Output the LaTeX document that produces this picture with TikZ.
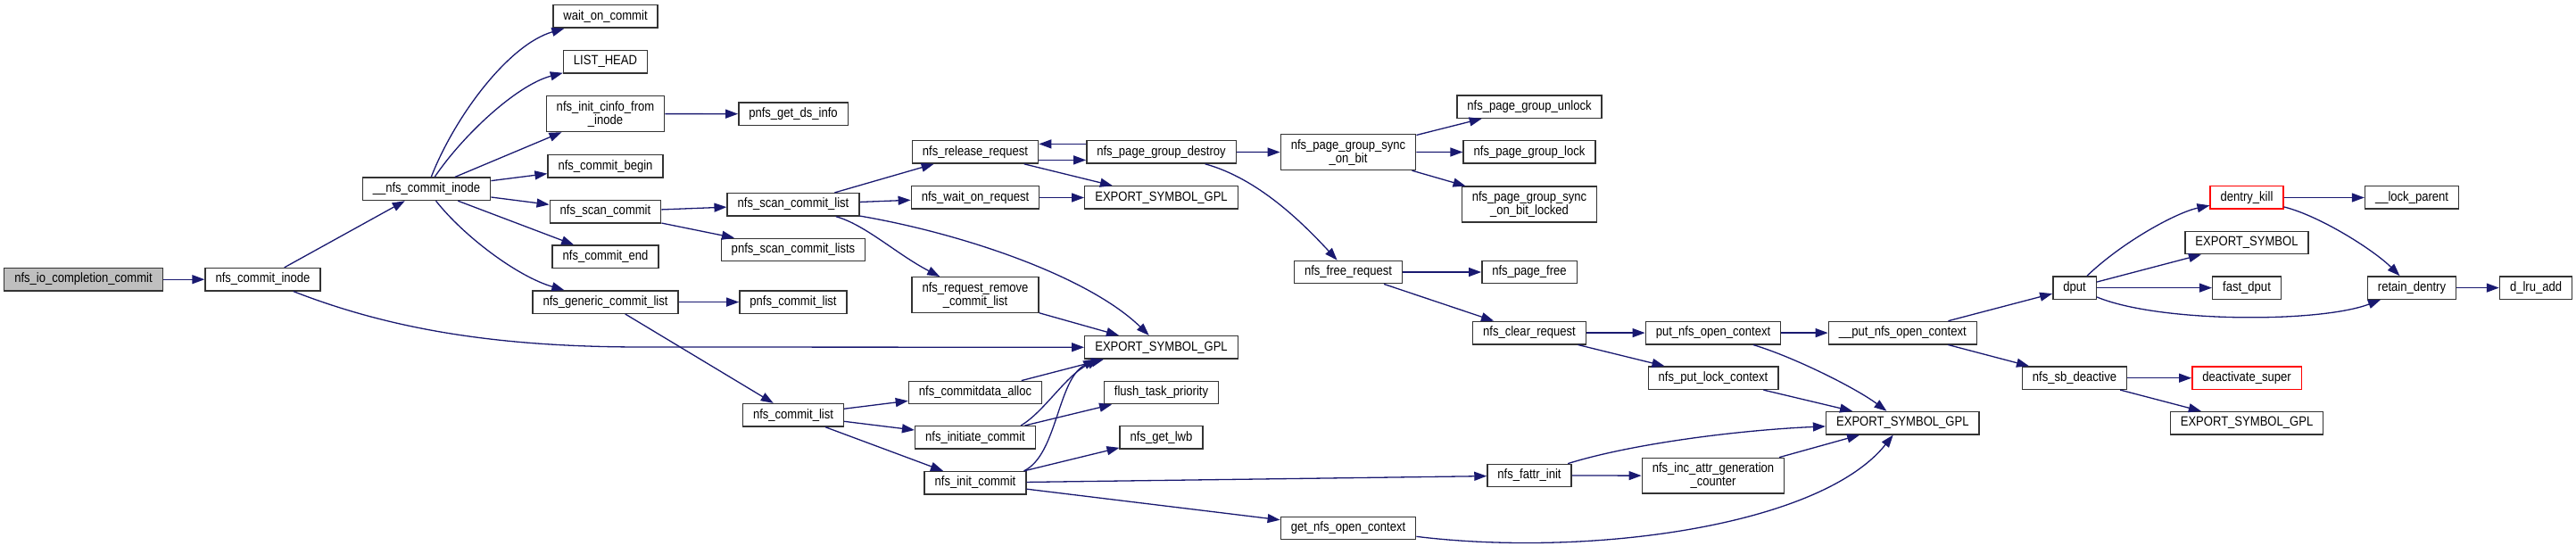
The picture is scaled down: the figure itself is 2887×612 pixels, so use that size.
\documentclass[tikz,border=0pt]{standalone}
\usepackage{fontspec}
\setmainfont{Liberation Sans}[FakeStretch=0.87]
\usetikzlibrary{arrows.meta}
\definecolor{edgeblue}{HTML}{191970}
\definecolor{boxline}{HTML}{333333}

\tikzset{
  fbox/.style={draw=boxline, line width=1.4pt, fill=white, inner xsep=11.5pt, inner ysep=0pt, font=\fontsize{15}{15}\selectfont},
  fn/.style={fbox, minimum height=25.4pt, text height=11pt, text depth=3.6pt},
  fn2/.style={fbox, minimum height=39.8pt, align=center},
  root/.style={fn, fill=gray!50},
  trunc/.style={fn, draw=red},
  call/.style={->, draw=edgeblue, line width=1.3pt},
}

\begin{document}
\begin{tikzpicture}[x=1pt, y=-1pt, >={Triangle[length=14pt,width=10pt]}]
    \useasboundingbox (0,0) rectangle (2887,612);

    % callers
    \node[root] (io) at (93.5,313.2) {nfs\_io\_completion\_commit};
    \node[fn] (nci) at (294.5,313.2) {nfs\_commit\_inode};
    \node[fn] (unci) at (478,211.8) {\_\_nfs\_commit\_inode};

    % callees of __nfs_commit_inode
    \node[fn] (woc) at (678.5,18.5) {wait\_on\_commit};
    \node[fn] (lh) at (678.5,69.3) {LIST\_HEAD};
    \node[fn2] (ici) at (678.5,127.6) {nfs\_init\_cinfo\_from\\\_inode};
    \node[fn] (cb) at (678.5,186.4) {nfs\_commit\_begin};
    \node[fn] (sc) at (678.5,237.3) {nfs\_scan\_commit};
    \node[fn] (ce) at (678.5,287.8) {nfs\_commit\_end};
    \node[fn] (gcl) at (678.5,338.6) {nfs\_generic\_commit\_list};

    \node[fn] (gdi) at (889,127.7) {pnfs\_get\_ds\_info};
    \node[fn] (scl) at (889,229.3) {nfs\_scan\_commit\_list};
    \node[fn] (pscl) at (889,280) {pnfs\_scan\_commit\_lists};
    \node[fn] (pcl) at (889,338.6) {pnfs\_commit\_list};
    \node[fn] (cl) at (889,465.3) {nfs\_commit\_list};

    \node[fn] (rr) at (1093,170.4) {nfs\_release\_request};
    \node[fn] (wor) at (1093,221.5) {nfs\_wait\_on\_request};
    \node[fn2] (rcl) at (1093,330.6) {nfs\_request\_remove\\\_commit\_list};
    \node[fn] (ca) at (1093,440) {nfs\_commitdata\_alloc};
    \node[fn] (ic) at (1093,490.4) {nfs\_initiate\_commit};
    \node[fn] (inc) at (1093,541.2) {nfs\_init\_commit};

    \node[fn] (pgd) at (1301.5,170.4) {nfs\_page\_group\_destroy};
    \node[fn] (gpla) at (1301.5,221.5) {EXPORT\_SYMBOL\_GPL};
    \node[fn] (gplb) at (1301.5,389.3) {EXPORT\_SYMBOL\_GPL};
    \node[fn] (ftp) at (1301.5,440) {flush\_task\_priority};
    \node[fn] (lwb) at (1301.5,490.4) {nfs\_get\_lwb};

    \node[fn2] (sob) at (1511,170.6) {nfs\_page\_group\_sync\\\_on\_bit};
    \node[fn] (fr) at (1511,305) {nfs\_free\_request};
    \node[fn] (gnoc) at (1511,592) {get\_nfs\_open\_context};

    \node[fn] (pgu) at (1714,119.6) {nfs\_page\_group\_unlock};
    \node[fn] (pgl) at (1714,170.4) {nfs\_page\_group\_lock};
    \node[fn2] (sobl) at (1714,229.1) {nfs\_page\_group\_sync\\\_on\_bit\_locked};
    \node[fn] (pf) at (1714,305) {nfs\_page\_free};
    \node[fn] (cr) at (1714,373.1) {nfs\_clear\_request};
    \node[fn] (fi) at (1714,533) {nfs\_fattr\_init};

    \node[fn] (pnoc) at (1920,373.1) {put\_nfs\_open\_context};
    \node[fn] (plc) at (1920,423.7) {nfs\_put\_lock\_context};
    \node[fn2] (iagc) at (1920,533.2) {nfs\_inc\_attr\_generation\\\_counter};

    \node[fn] (upnoc) at (2132.3,373.1) {\_\_put\_nfs\_open\_context};
    \node[fn] (gplc) at (2132.3,474.2) {EXPORT\_SYMBOL\_GPL};

    \node[fn] (dput) at (2325,322.6) {dput};
    \node[fn] (sbd) at (2325,423.7) {nfs\_sb\_deactive};

    \node[trunc] (dk) at (2518,221.5) {dentry\_kill};
    \node[fn] (es) at (2518,272) {EXPORT\_SYMBOL};
    \node[fn] (fd) at (2518,322.6) {fast\_dput};
    \node[trunc] (ds) at (2518,423.7) {deactivate\_super};
    \node[fn] (gpld) at (2518,474.2) {EXPORT\_SYMBOL\_GPL};

    \node[fn] (lp) at (2703,221.5) {\_\_lock\_parent};
    \node[fn] (rd) at (2703,322.6) {retain\_dentry};
    \node[fn] (lru) at (2842,322.6) {d\_lru\_add};

    % calls
    \draw[call] (io) -- (nci);
    \draw[call] (nci) -- (unci);
    \coordinate (elb) at (720,389);
    \draw[call] (nci) .. controls (440,370) and (560,389) .. (elb) -- (gplb);
    \draw[call] (unci) .. controls (510,130) and (570,50) .. (woc);
    \draw[call] (unci) .. controls (520,150) and (580,95) .. (lh);
    \foreach \t in {ici,cb,sc,ce}
        \draw[call] (unci) -- (\t);
    \draw[call] (unci) .. controls (520,265) and (580,310) .. (gcl);

    \draw[call] (ici) -- (gdi);
    \draw[call] (sc) -- (scl);
    \draw[call] (sc) -- (pscl);
    \draw[call] (gcl) -- (pcl);
    \draw[call] (gcl) -- (cl);

    \draw[call] (scl) -- (rr);
    \draw[call] (scl) -- (wor);
    \draw[call] (scl) .. controls (970,252) and (1005,285) .. (rcl);
    \draw[call] (scl) .. controls (1080,262) and (1220,310) .. (gplb);
    \draw[call] ([yshift=-9pt]rr.east) -- ([yshift=-9pt]pgd.west);
    \draw[call] ([yshift=9pt]pgd.west) -- ([yshift=9pt]rr.east);
    \draw[call] (rr) -- (gpla);
    \draw[call] (wor) -- (gpla);
    \draw[call] (rcl) -- (gplb);

    \foreach \t in {ca,ic,inc}
        \draw[call] (cl) -- (\t);
    \draw[call] (ca) -- ([xshift=22pt]gplb.south west);
    \draw[call] ([xshift=-17pt]ic.north east) .. controls (1170,462) and (1195,420) .. ([xshift=17pt]gplb.south west);
    \draw[call] (ic) -- (ftp);
    \draw[call] ([xshift=-3pt]inc.north east) .. controls (1185,510) and (1185,425) .. ([xshift=13pt]gplb.south west);
    \draw[call] (inc) -- (lwb);
    \draw[call] (inc) -- (fi);
    \draw[call] (inc) -- (gnoc);

    \draw[call] (pgd) -- (sob);
    \draw[call] (pgd) .. controls (1410,200) and (1460,250) .. (fr);
    \foreach \t in {pgu,pgl,sobl}
        \draw[call] (sob) -- (\t);
    \draw[call] (fr) -- (pf);
    \draw[call] (fr) -- (cr);
    \draw[call] (cr) -- (pnoc);
    \draw[call] (cr) -- (plc);

    \draw[call] (pnoc) -- (upnoc);
    \draw[call] (pnoc) .. controls (2010,400) and (2080,435) .. (gplc);
    \draw[call] (plc) -- (gplc);
    \draw[call] (fi) .. controls (1830,497) and (1950,482) .. (gplc);
    \draw[call] (fi) -- (iagc);
    \draw[call] (iagc) -- (gplc);
    \draw[call] (gnoc) .. controls (1780,625) and (2040,590) .. (gplc);

    \draw[call] (upnoc) -- (dput);
    \draw[call] (upnoc) -- (sbd);
    \draw[call] (dput) .. controls (2380,270) and (2440,238) .. (dk);
    \draw[call] (dput) -- (es);
    \draw[call] (dput) -- (fd);
    \draw[call] (dput) .. controls (2420,362) and (2600,362) .. (rd);
    \draw[call] (dk) -- (lp);
    \draw[call] (dk) .. controls (2600,242) and (2660,280) .. (rd);
    \draw[call] (rd) -- (lru);
    \draw[call] (sbd) -- (ds);
    \draw[call] (sbd) -- (gpld);
\end{tikzpicture}
\end{document}
